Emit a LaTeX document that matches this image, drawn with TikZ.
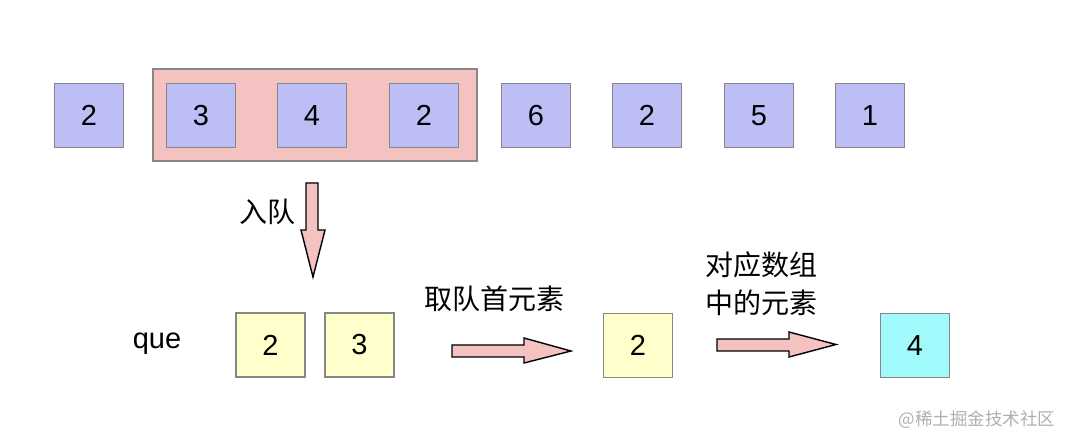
\documentclass[tikz,border=0pt]{standalone}
\usepackage{fontspec}
\setmainfont{Liberation Sans}
\newfontfamily\cjk{Noto Sans CJK SC}
\definecolor{boxblue}{RGB}{190,190,246}
\definecolor{boxyellow}{RGB}{255,255,204}
\definecolor{boxcyan}{RGB}{160,250,252}
\definecolor{winpink}{RGB}{245,194,194}
\definecolor{edgegray}{RGB}{135,135,135}
\definecolor{wmgray}{RGB}{175,175,175}
\begin{document}
\begin{tikzpicture}[x=1pt,y=-1pt,
  cell/.style={draw=edgegray,line width=1.4pt,minimum width=69pt,minimum height=64pt,inner sep=0pt,font=\fontsize{29}{34}\selectfont},
  bluecell/.style={cell,fill=boxblue},
  yelcell/.style={cell,fill=boxyellow},
  cyancell/.style={cell,fill=boxcyan},
  blockarrow/.style={draw=black,line width=1.4pt,fill=winpink,line join=miter},
  lbl/.style={font=\fontsize{29}{34}\selectfont},
  cjklbl/.style={font=\cjk\fontsize{28}{38}\selectfont,align=center,inner sep=0pt}]
\useasboundingbox (0,0) rectangle (1072,446);
\node[draw=edgegray,line width=1.4pt,fill=winpink,minimum width=324pt,minimum height=92pt,inner sep=0pt] (win) at (315,115) {};
\node[bluecell] (a1) at (89,115.5) {2};
\node[bluecell] (a2) at (201,115.5) {3};
\node[bluecell] (a3) at (312,115.5) {4};
\node[bluecell] (a4) at (424,115.5) {2};
\node[bluecell] (a5) at (536,115.5) {6};
\node[bluecell] (a6) at (647,115.5) {2};
\node[bluecell] (a7) at (759,115.5) {5};
\node[bluecell] (a8) at (870,115.5) {1};
% down arrow
\draw[blockarrow] (306,183) -- (318,183) -- (318,230) -- (325,230) -- (313,277) -- (301,230) -- (306,230) -- cycle;
\node[cjklbl] (enq) at (267,212) {入队};
% queue
\node[lbl] (que) at (157,344) {que};
\node[yelcell] (q1) at (270.5,345) {2};
\node[yelcell] (q2) at (359.5,345) {3};
\node[cjklbl] (take) at (494,299) {取队首元素};
\draw[blockarrow] (452,345) -- (524,345) -- (524,338) -- (571,351) -- (524,363) -- (524,357) -- (452,357) -- cycle;
\node[yelcell] (front) at (638,345.5) {2};
\node[cjklbl] (map) at (761,284) {对应数组\\中的元素};
\draw[blockarrow] (717,339) -- (789,339) -- (789,332) -- (836,344.5) -- (789,357) -- (789,351) -- (717,351) -- cycle;
\node[cyancell] (res) at (915,345.5) {4};
\node[font=\cjk\fontsize{17.5}{20}\selectfont,text=wmgray,inner sep=0pt] (wm) at (977,420) {@稀土掘金技术社区};
\end{tikzpicture}
\end{document}
